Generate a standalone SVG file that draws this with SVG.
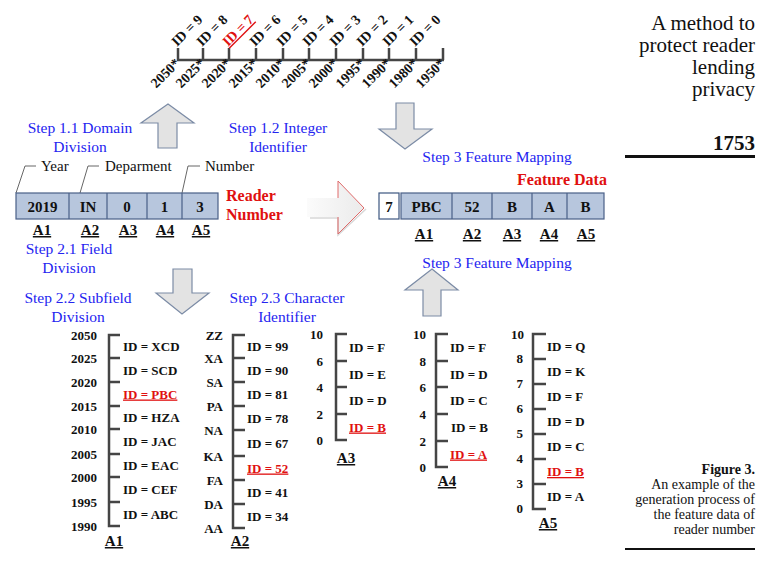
<svg xmlns="http://www.w3.org/2000/svg" width="775" height="567" viewBox="0 0 775 567">
<defs>
<linearGradient id="rg" x1="0" y1="0" x2="1" y2="0">
<stop offset="0" stop-color="#fbfbfb"/><stop offset="1" stop-color="#ebebeb"/>
</linearGradient>
<style>
text{font-family:"Liberation Serif","Times New Roman",serif}
.st{font-size:15.5px;fill:#2424f0;text-anchor:middle}
.b{font-weight:bold;fill:#111}
.c{text-anchor:middle}
.e{text-anchor:end}
.u{text-decoration:underline}
.red{fill:#e01010}
.f13{font-size:13px}
.f14{font-size:14px}
.f15{font-size:15px}
.f16{font-size:16px}
.axis{fill:none;stroke:#454545;stroke-width:2.5}
.bar{fill:#b7c6dd;stroke:#4a6088;stroke-width:1.2}
.big{fill:#e3e3e3;stroke:#7c8ca6;stroke-width:1.2}
.lead{fill:none;stroke:#555;stroke-width:0.9}
.ttl{font-size:21px;fill:#111;text-anchor:end}
.cap{font-size:14px;fill:#111;text-anchor:end}
</style>
</defs>
<rect width="775" height="567" fill="#fff"/>

<g id="top-scale">
<path class="axis" d="M177,60 H444 M178,60 V48 M203,60 V48 M229,60 V48 M256,60 V48 M283,60 V48 M309,60 V48 M336,60 V48 M363,60 V48 M389,60 V48 M416,60 V48 M443,60 V48"/>
<g class="b f14">
<text transform="translate(177,47) rotate(-45)">ID = 9</text>
<text transform="translate(202,47) rotate(-45)">ID = 8</text>
<text class="red u" transform="translate(228,47) rotate(-45)">ID = 7</text>
<text transform="translate(255,47) rotate(-45)">ID = 6</text>
<text transform="translate(282,47) rotate(-45)">ID = 5</text>
<text transform="translate(308,47) rotate(-45)">ID = 4</text>
<text transform="translate(335,47) rotate(-45)">ID = 3</text>
<text transform="translate(362,47) rotate(-45)">ID = 2</text>
<text transform="translate(388,47) rotate(-45)">ID = 1</text>
<text transform="translate(415,47) rotate(-45)">ID = 0</text>
</g>
<g class="b f14 e">
<text transform="translate(181,64) rotate(-45)">2050*</text>
<text transform="translate(206,64) rotate(-45)">2025*</text>
<text transform="translate(232,64) rotate(-45)">2020*</text>
<text transform="translate(259,64) rotate(-45)">2015*</text>
<text transform="translate(286,64) rotate(-45)">2010*</text>
<text transform="translate(312,64) rotate(-45)">2005*</text>
<text transform="translate(339,64) rotate(-45)">2000*</text>
<text transform="translate(366,64) rotate(-45)">1995*</text>
<text transform="translate(392,64) rotate(-45)">1990*</text>
<text transform="translate(419,64) rotate(-45)">1980*</text>
<text transform="translate(446,64) rotate(-45)">1950*</text>
</g>
</g>

<g id="connectors">
<path class="big" d="M168,104 L194,123 L177,123 L177,148 L158,148 L158,123 L141,123 Z"/>
<path class="big" d="M396,103 L414,103 L414,129 L432,129 L405,149 L379,129 L396,129 Z"/>
<path d="M307,198 L338,198 L338,181 L364,208 L338,234 L338,217 L307,217 Z" fill="url(#rg)"/>
<path d="M310,218 L338,218 L338,235 L366,209" fill="none" stroke="#d8d8d8" stroke-width="1.5"/>
<path d="M338,198 L338,181 L364,208 L338,234 L338,217" fill="none" stroke="#e06a6a" stroke-width="1"/>
<path class="big" d="M173,269 L192,269 L192,293 L209,293 L182,314 L156,293 L173,293 Z"/>
<path class="big" d="M432,269 L458,290 L441,290 L441,316 L423,316 L423,290 L405,290 Z"/>
</g>

<g id="steps">
<text class="st" x="80" y="133">Step 1.1 Domain</text>
<text class="st" x="80" y="152">Division</text>
<text class="st" x="278" y="133">Step 1.2 Integer</text>
<text class="st" x="278" y="152">Identifier</text>
<text class="st" x="497" y="162">Step 3 Feature Mapping</text>
<text class="st" x="497" y="268">Step 3 Feature Mapping</text>
<text class="st" x="69" y="254">Step 2.1 Field</text>
<text class="st" x="69" y="273">Division</text>
<text class="st" x="78" y="303">Step 2.2 Subfield</text>
<text class="st" x="78" y="322">Division</text>
<text class="st" x="287" y="303">Step 2.3 Character</text>
<text class="st" x="287" y="322">Identifier</text>
</g>

<g id="reader-number">
<path class="lead" d="M16,193 L25,166 H36 M80,193 L88,166 H99 M182,193 L188,166 H200"/>
<text x="41" y="171" font-size="15" fill="#111">Year</text>
<text x="105" y="171" font-size="15" fill="#111">Deparment</text>
<text x="205" y="171" font-size="15" fill="#111">Number</text>
<rect class="bar" x="16" y="193" width="202" height="26"/>
<path class="bar" d="M69,193 V219 M107,193 V219 M147,193 V219 M182,193 V219"/>
<g class="b f15 c">
<text x="42.5" y="212">2019</text>
<text x="88" y="212">IN</text>
<text x="127" y="212">0</text>
<text x="164.5" y="212">1</text>
<text x="200" y="212">3</text>
<text class="u" x="42" y="235">A1</text>
<text class="u" x="90" y="235">A2</text>
<text class="u" x="128" y="235">A3</text>
<text class="u" x="165" y="235">A4</text>
<text class="u" x="201" y="235">A5</text>
</g>
<text class="b red f16" x="226" y="201">Reader</text>
<text class="b red f16" x="226" y="220">Number</text>
</g>

<g id="feature-data">
<text class="b red f16" x="517" y="185">Feature Data</text>
<rect x="379" y="193" width="20" height="26" fill="#fff" stroke="#3c5680" stroke-width="1.2"/>
<rect class="bar" x="401" y="193" width="203" height="26"/>
<path class="bar" d="M452,193 V219 M492,193 V219 M532,193 V219 M567,193 V219"/>
<g class="b f15 c">
<text x="389" y="212">7</text>
<text x="426.5" y="212">PBC</text>
<text x="472" y="212">52</text>
<text x="512" y="212">B</text>
<text x="549.5" y="212">A</text>
<text x="585.5" y="212">B</text>
<text class="u" x="424" y="239">A1</text>
<text class="u" x="472" y="239">A2</text>
<text class="u" x="512" y="239">A3</text>
<text class="u" x="549" y="239">A4</text>
<text class="u" x="586" y="239">A5</text>
</g>
</g>

<g id="col-A1">
<path class="axis" d="M120,335 H109 V526 H120 M109,358 H120 M109,382 H120 M109,406 H120 M109,429 H120 M109,454 H120 M109,477 H120 M109,502 H120"/>
<g class="b f13 e">
<text x="97" y="339.5">2050</text><text x="97" y="362.5">2025</text><text x="97" y="386.5">2020</text>
<text x="97" y="410.5">2015</text><text x="97" y="433.5">2010</text><text x="97" y="458.5">2005</text>
<text x="97" y="481.5">2000</text><text x="97" y="506.5">1995</text><text x="97" y="530.5">1990</text>
</g>
<g class="b f13">
<text x="123" y="351">ID = XCD</text><text x="123" y="374.5">ID = SCD</text>
<text class="red u" x="123" y="398.5">ID = PBC</text><text x="123" y="422">ID = HZA</text>
<text x="123" y="446">ID = JAC</text><text x="123" y="470">ID = EAC</text>
<text x="123" y="494">ID = CEF</text><text x="123" y="518.5">ID = ABC</text>
</g>
<text class="b f15 c u" x="114" y="546">A1</text>
</g>

<g id="col-A2">
<path class="axis" d="M245,335 H233 V528 H245 M233,358 H245 M233,382 H245 M233,406 H245 M233,430 H245 M233,456 H245 M233,480 H245 M233,504 H245"/>
<g class="b f13 e">
<text x="223" y="339.5">ZZ</text><text x="223" y="362.5">XA</text><text x="223" y="386.5">SA</text>
<text x="223" y="410.5">PA</text><text x="223" y="434.5">NA</text><text x="223" y="460.5">KA</text>
<text x="223" y="484.5">FA</text><text x="223" y="508.5">DA</text><text x="223" y="532.5">AA</text>
</g>
<g class="b f13">
<text x="247" y="351">ID = 99</text><text x="247" y="374.5">ID = 90</text>
<text x="247" y="398.5">ID = 81</text><text x="247" y="422.5">ID = 78</text>
<text x="247" y="447.5">ID = 67</text><text class="red u" x="247" y="472.5">ID = 52</text>
<text x="247" y="496.5">ID = 41</text><text x="247" y="520.5">ID = 34</text>
</g>
<text class="b f15 c u" x="240" y="546">A2</text>
</g>

<g id="col-A3">
<path class="axis" d="M347,334 H336 V440 H347 M336,361 H347 M336,387 H347 M336,414 H347"/>
<g class="b f13 e">
<text x="323" y="338.5">10</text><text x="323" y="365.5">6</text><text x="323" y="391.5">4</text>
<text x="323" y="418.5">2</text><text x="323" y="444.5">0</text>
</g>
<g class="b f13">
<text x="349" y="352">ID = F</text><text x="349" y="378.5">ID = E</text>
<text x="349" y="405">ID = D</text><text class="red u" x="349" y="431.5">ID = B</text>
</g>
<text class="b f15 c u" x="346" y="463">A3</text>
</g>

<g id="col-A4">
<path class="axis" d="M448,334 H436 V467 H448 M436,361 H448 M436,387 H448 M436,414 H448 M436,441 H448"/>
<g class="b f13 e">
<text x="426" y="338.5">10</text><text x="426" y="365.5">8</text><text x="426" y="391.5">6</text>
<text x="426" y="418.5">4</text><text x="426" y="445.5">2</text><text x="426" y="471.5">0</text>
</g>
<g class="b f13">
<text x="450" y="352">ID = F</text><text x="450" y="378.5">ID = D</text>
<text x="450" y="405">ID = C</text><text x="451" y="432">ID = B</text>
<text class="red u" x="450" y="458.5">ID = A</text>
</g>
<text class="b f15 c u" x="447" y="486">A4</text>
</g>

<g id="col-A5">
<path class="axis" d="M546,334 H533 V509 H546 M533,359 H546 M533,384 H546 M533,409 H546 M533,434 H546 M533,459 H546 M533,484 H546"/>
<g class="b f13 e">
<text x="524" y="338.5">10</text><text x="523" y="362.5">8</text><text x="523" y="387.5">7</text>
<text x="523" y="412.5">6</text><text x="523" y="437.5">5</text><text x="523" y="462.5">4</text>
<text x="523" y="487.5">3</text><text x="523" y="513">0</text>
</g>
<g class="b f13">
<text x="547" y="351">ID = Q</text><text x="547" y="376">ID = K</text>
<text x="547" y="401">ID = F</text><text x="547" y="426">ID = D</text>
<text x="547" y="451">ID = C</text><text class="red u" x="547" y="476">ID = B</text>
<text x="547" y="501">ID = A</text>
</g>
<text class="b f15 c u" x="548" y="528">A5</text>
</g>

<g id="side-panel">
<text class="ttl" x="755" y="30">A method to</text>
<text class="ttl" x="755" y="52">protect reader</text>
<text class="ttl" x="755" y="74">lending</text>
<text class="ttl" x="755" y="96">privacy</text>
<text class="ttl" x="755" y="150" font-weight="bold">1753</text>
<rect x="625" y="155" width="130" height="3" fill="#111"/>
<text class="cap" x="755" y="474" font-weight="bold" font-size="15">Figure 3.</text>
<text class="cap" x="755" y="489">An example of the</text>
<text class="cap" x="755" y="504">generation process of</text>
<text class="cap" x="755" y="519">the feature data of</text>
<text class="cap" x="755" y="534">reader number</text>
<rect x="625" y="548" width="130" height="2" fill="#111"/>
</g>
</svg>
